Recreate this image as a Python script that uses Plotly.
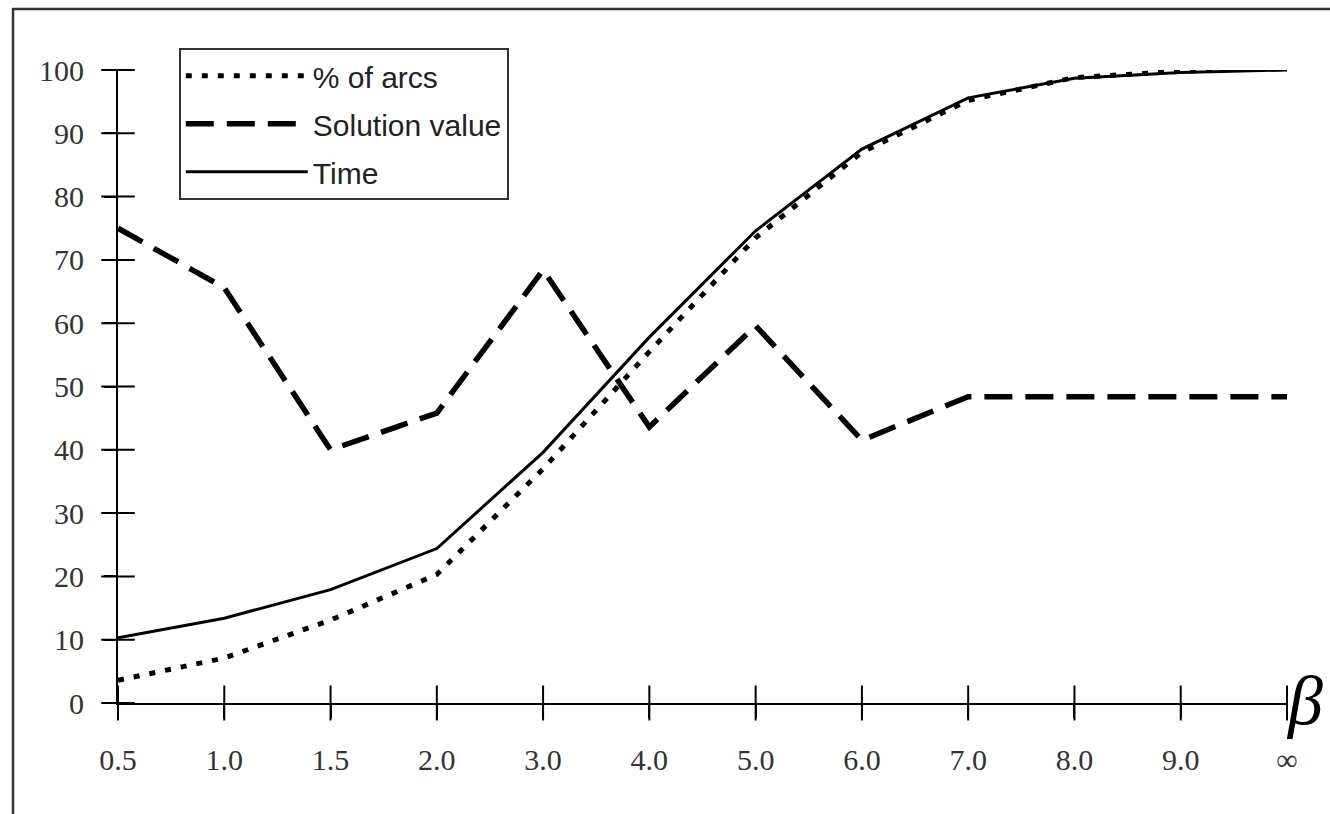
import plotly.graph_objects as go

categories = ["0.5", "1.0", "1.5", "2.0", "3.0", "4.0", "5.0", "6.0", "7.0", "8.0", "9.0", "∞"]
pct_arcs = [3.6, 7.1, 13.1, 20.3, 37.0, 55.5, 73.5, 87.0, 95.2, 98.8, 99.8, 100.3]
solution_value = [75.0, 65.6, 40.0, 45.8, 68.4, 43.6, 59.6, 41.5, 48.4, 48.4, 48.4, 48.4]
time_vals = [10.3, 13.4, 17.9, 24.4, 39.6, 57.8, 74.6, 87.5, 95.6, 98.7, 99.6, 100.0]
y_ticks = [0, 10, 20, 30, 40, 50, 60, 70, 80, 90, 100]

fig = go.Figure()
fig.add_trace(go.Scatter(x=categories, y=pct_arcs, mode="lines", name="% of arcs",
                         legendgroup="a",
                         line=dict(color="black", width=5, dash="6px,10px")))
fig.add_trace(go.Scatter(x=categories, y=solution_value, mode="lines", name="Solution value",
                         legendgroup="b",
                         line=dict(color="black", width=5.5, dash="28px,13px")))
fig.add_trace(go.Scatter(x=categories, y=time_vals, mode="lines", name="Time",
                         legendgroup="c",
                         line=dict(color="black", width=3)))

# tick crosses on the axes (ticks that cross the axis line), drawn as line markers
fig.add_trace(go.Scatter(x=categories, y=[0] * len(categories), mode="markers",
                         showlegend=False, hoverinfo="skip", cliponaxis=False,
                         marker=dict(symbol="line-ns-open", size=25, color="black",
                                     line=dict(color="black", width=2))))
fig.add_trace(go.Scatter(x=[categories[0]] * len(y_ticks), y=y_ticks, mode="markers",
                         showlegend=False, hoverinfo="skip", cliponaxis=False,
                         marker=dict(symbol="line-ew-open", size=24, color="black",
                                     line=dict(color="black", width=2))))

tickfont = dict(family="Liberation Serif, Times New Roman, serif", size=30, color="#333")

fig.update_layout(
    width=1330, height=814,
    margin=dict(l=118, r=43, t=70, b=111),
    paper_bgcolor="white", plot_bgcolor="white",
    showlegend=True,
    legend=dict(x=0.052, y=1.035, xanchor="left", yanchor="top",
                bordercolor="#333", borderwidth=2, bgcolor="white",
                font=dict(family="Liberation Sans, Arial, sans-serif", size=30, color="#222"),
                tracegroupgap=6, itemwidth=122),
    xaxis=dict(type="category", range=[0, 11], showline=True, linecolor="black", linewidth=2,
               ticks="outside", ticklen=13, tickwidth=2, tickcolor="black",
               showgrid=False, zeroline=False, tickfont=tickfont, ticklabelstandoff=16),
    yaxis=dict(range=[0, 100], tickvals=y_ticks, showline=True, linecolor="black", linewidth=2,
               ticks="outside", ticklen=12, tickwidth=2, tickcolor="black",
               showgrid=False, zeroline=False, tickfont=tickfont, ticklabelstandoff=14),
)

fig.add_annotation(text="<i>β</i>", xref="x", yref="y", x=11, y=0, xanchor="left", yanchor="middle",
                   xshift=-2, yshift=3, showarrow=False, borderpad=0,
                   font=dict(family="Liberation Serif, Times New Roman, serif", size=70, color="black"))

fig.add_shape(type="rect", xref="paper", yref="paper",
              x0=-0.0898, x1=1.045, y0=-0.19, y1=1.0964,
              line=dict(color="#333", width=2.5), layer="below")

fig.write_html("out.html")
